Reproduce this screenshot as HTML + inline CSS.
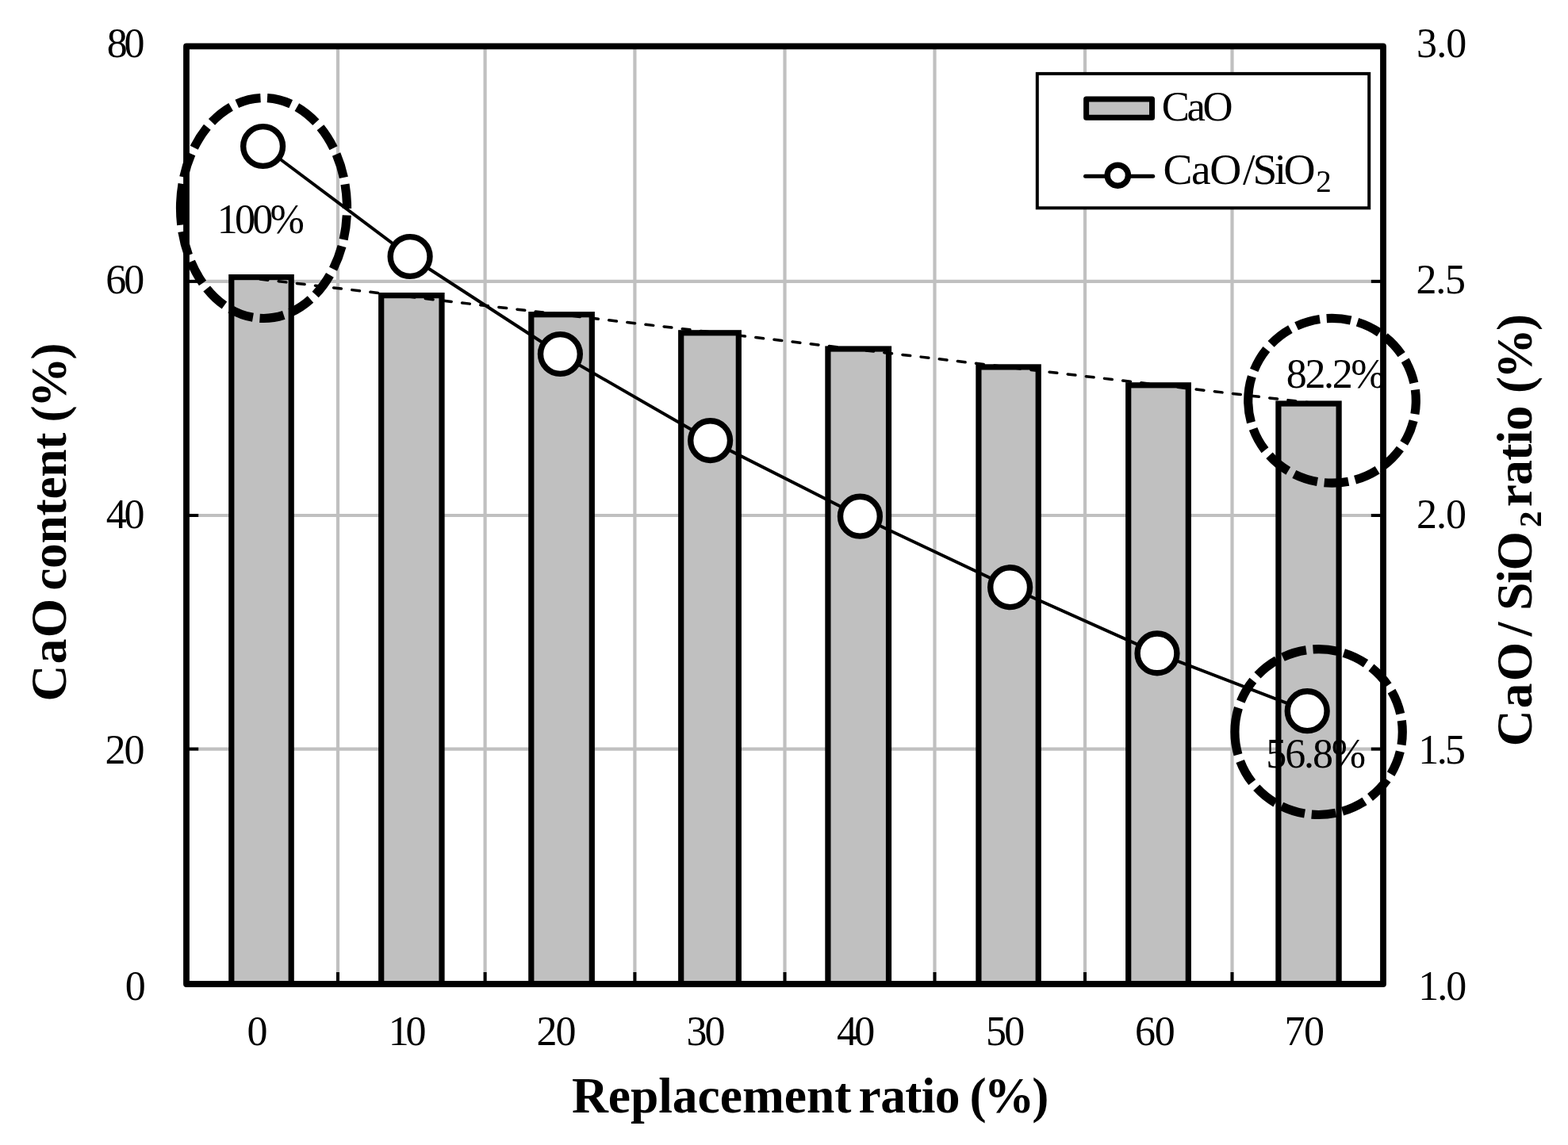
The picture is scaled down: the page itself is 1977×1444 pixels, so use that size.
<!DOCTYPE html>
<html lang="en">
<head>
<meta charset="utf-8">
<title>CaO content and CaO/SiO2 ratio vs. replacement ratio</title>
<style>
html,body{margin:0;padding:0;background:#fff;}
body{width:1977px;height:1444px;overflow:hidden;}
svg{display:block;}
text{font-family:"Liberation Serif",serif;fill:#000;white-space:pre;font-kerning:none;font-variant-ligatures:none;}
</style>
</head>
<body>
<svg width="1977" height="1444" viewBox="0 0 1977 1444">
<defs>
<clipPath id="plotclip"><rect x="235.0" y="58.4" width="1509.0" height="1182.6"/></clipPath>
</defs>
<rect x="0" y="0" width="1977" height="1444" fill="#fff"/>

<g stroke="#c0c0c0" stroke-width="4.2" fill="none">
<line x1="426" y1="58.4" x2="426" y2="1241.0"/>
<line x1="611.6" y1="58.4" x2="611.6" y2="1241.0"/>
<line x1="800.4" y1="58.4" x2="800.4" y2="1241.0"/>
<line x1="989.5" y1="58.4" x2="989.5" y2="1241.0"/>
<line x1="1178.5" y1="58.4" x2="1178.5" y2="1241.0"/>
<line x1="1368" y1="58.4" x2="1368" y2="1241.0"/>
<line x1="1553.5" y1="58.4" x2="1553.5" y2="1241.0"/>
<line x1="235.0" y1="354.9" x2="1744.0" y2="354.9"/>
<line x1="235.0" y1="650.0" x2="1744.0" y2="650.0"/>
<line x1="235.0" y1="944.6" x2="1744.0" y2="944.6"/>
</g>
<g fill="#c0c0c0" stroke="#000" stroke-width="7.2" stroke-linejoin="miter">
<rect x="291.80" y="349.60" width="75.40" height="891.40"/>
<rect x="480.70" y="372.60" width="76.30" height="868.40"/>
<rect x="669.80" y="396.70" width="76.50" height="844.30"/>
<rect x="858.70" y="419.80" width="72.60" height="821.20"/>
<rect x="1043.90" y="440.00" width="76.60" height="801.00"/>
<rect x="1233.90" y="462.90" width="75.30" height="778.10"/>
<rect x="1422.70" y="485.80" width="75.60" height="755.20"/>
<rect x="1611.90" y="509.00" width="76.20" height="732.00"/>
</g>
<g stroke="#000" stroke-width="4" fill="none">
<line x1="426" y1="1226" x2="426" y2="1241.0"/>
<line x1="611.6" y1="1226" x2="611.6" y2="1241.0"/>
<line x1="800.4" y1="1226" x2="800.4" y2="1241.0"/>
<line x1="989.5" y1="1226" x2="989.5" y2="1241.0"/>
<line x1="1178.5" y1="1226" x2="1178.5" y2="1241.0"/>
<line x1="1368" y1="1226" x2="1368" y2="1241.0"/>
<line x1="1553.5" y1="1226" x2="1553.5" y2="1241.0"/>
<line x1="235.0" y1="354.9" x2="250.2" y2="354.9"/>
<line x1="1728.8" y1="354.9" x2="1744.0" y2="354.9"/>
<line x1="235.0" y1="650.0" x2="250.2" y2="650.0"/>
<line x1="1728.8" y1="650.0" x2="1744.0" y2="650.0"/>
<line x1="235.0" y1="944.6" x2="250.2" y2="944.6"/>
<line x1="1728.8" y1="944.6" x2="1744.0" y2="944.6"/>
</g>
<rect x="235.0" y="58.4" width="1509.0" height="1182.6" fill="none" stroke="#000" stroke-width="7.8" stroke-linejoin="round"/>
<line x1="326.3" y1="351.8" x2="1650" y2="507.7" stroke="#000" stroke-width="3.5" stroke-dasharray="9.8 13.5" stroke-dashoffset="-1.75" stroke-linecap="round" fill="none"/>
<polyline points="331.6,184.5 517.1,323.5 706.4,446.5 895.6,555.6 1084.4,651.2 1273.6,740.7 1459,823.9 1648.2,896.7" fill="none" stroke="#000" stroke-width="4.0" stroke-linejoin="round"/>
<g fill="#fff" stroke="#000" stroke-width="7.4">
<circle cx="331.6" cy="184.5" r="24.9"/>
<circle cx="517.1" cy="323.5" r="24.9"/>
<circle cx="706.4" cy="446.5" r="24.9"/>
<circle cx="895.6" cy="555.6" r="24.9"/>
<circle cx="1084.4" cy="651.2" r="24.9"/>
<circle cx="1273.6" cy="740.7" r="24.9"/>
<circle cx="1459" cy="823.9" r="24.9"/>
<circle cx="1648.2" cy="896.7" r="24.9"/>
</g>
<rect x="1307.8" y="92.9" width="418.4" height="169.4" fill="#fff" stroke="#000" stroke-width="4"/>
<rect x="1369.6" y="124.9" width="82.9" height="23.3" fill="#c0c0c0" stroke="#000" stroke-width="7" stroke-linejoin="round"/>
<line x1="1368.5" y1="222.3" x2="1453.7" y2="222.3" stroke="#000" stroke-width="5" stroke-linecap="round"/>
<circle cx="1409.3" cy="221.2" r="13.1" fill="#fff" stroke="#000" stroke-width="7.4"/>
<text font-size="52" font-weight="normal"><tspan x="134.72" y="72.40" letter-spacing="-4.339">80</tspan></text>
<text font-size="52" font-weight="normal"><tspan x="133.37" y="369.60" letter-spacing="-2.985">60</tspan></text>
<text font-size="52" font-weight="normal"><tspan x="133.78" y="665.80" letter-spacing="-3.304">40</tspan></text>
<text font-size="52" font-weight="normal"><tspan x="132.61" y="963.20" letter-spacing="-2.234">20</tspan></text>
<text font-size="52" font-weight="normal"><tspan x="157.82" y="1260.60" letter-spacing="0.000">0</tspan></text>
<text font-size="52" font-weight="normal"><tspan x="1786.11" y="72.40" letter-spacing="-0.916">3.0</tspan></text>
<text font-size="52" font-weight="normal"><tspan x="1785.51" y="369.60" letter-spacing="-1.242">2.5</tspan></text>
<text font-size="52" font-weight="normal"><tspan x="1786.11" y="666.40" letter-spacing="-1.017">2.0</tspan></text>
<text font-size="52" font-weight="normal"><tspan x="1788.33" y="963.20" letter-spacing="-2.649">1.5</tspan></text>
<text font-size="52" font-weight="normal"><tspan x="1788.23" y="1260.60" letter-spacing="-1.975">1.0</tspan></text>
<text font-size="52" font-weight="normal"><tspan x="311.52" y="1317.80" letter-spacing="0.000">0</tspan></text>
<text font-size="52" font-weight="normal"><tspan x="489.63" y="1317.80" letter-spacing="-4.049">10</tspan></text>
<text font-size="52" font-weight="normal"><tspan x="676.61" y="1317.80" letter-spacing="-2.234">20</tspan></text>
<text font-size="52" font-weight="normal"><tspan x="865.61" y="1317.80" letter-spacing="-3.031">30</tspan></text>
<text font-size="52" font-weight="normal"><tspan x="1054.88" y="1317.80" letter-spacing="-3.504">40</tspan></text>
<text font-size="52" font-weight="normal"><tspan x="1242.98" y="1317.80" letter-spacing="-2.798">50</tspan></text>
<text font-size="52" font-weight="normal"><tspan x="1430.97" y="1317.80" letter-spacing="-1.185">60</tspan></text>
<text font-size="52" font-weight="normal"><tspan x="1619.57" y="1317.80" letter-spacing="-1.592">70</tspan></text>
<text font-size="52" font-weight="normal"><tspan x="273.63" y="294.40" letter-spacing="-3.690">100%</tspan></text>
<g clip-path="url(#plotclip)"><text font-size="52" font-weight="normal"><tspan x="1621.82" y="488.60" letter-spacing="-2.390">82.2%</tspan></text></g>
<text font-size="52" font-weight="normal"><tspan x="1596.28" y="968.20" letter-spacing="-2.129">56.8%</tspan></text>
<text font-size="52.7" font-weight="normal"><tspan x="1464.84" y="151.60" letter-spacing="-3.438">CaO</tspan></text>
<text font-size="55.5" font-weight="normal"><tspan x="1466.62" y="232.40" letter-spacing="-1.540">CaO</tspan><tspan x="1566.90" y="232.40" letter-spacing="0.000">/</tspan><tspan x="1579.59" y="232.40" letter-spacing="-3.689">SiO</tspan><tspan x="1659.19" y="242.00" letter-spacing="0.000" font-size="39">2</tspan></text>
<text font-size="63.5" font-weight="bold"><tspan x="720.91" y="1402.80" letter-spacing="-0.020">Replacement </tspan><tspan x="1082.59" y="1402.80" letter-spacing="-0.637">ratio </tspan><tspan x="1222.51" y="1402.80" letter-spacing="-3.005">(%)</tspan></text>
<text font-size="63.5" font-weight="bold" transform="translate(83.2 0) rotate(-90)"><tspan x="-884.40" y="0.00" letter-spacing="1.301">CaO </tspan><tspan x="-744.77" y="0.00" letter-spacing="-0.299">content </tspan><tspan x="-532.39" y="0.00" letter-spacing="-2.855">(%)</tspan></text>
<text font-size="63.5" font-weight="bold" transform="translate(1931 0) rotate(-90)"><tspan x="-941.20" y="0.00" letter-spacing="2.201">CaO </tspan><tspan x="-802.28" y="0.00" letter-spacing="0.000">/ </tspan><tspan x="-769.68" y="0.00" letter-spacing="-1.385">SiO</tspan><tspan x="-665.02" y="12.20" letter-spacing="0.000" font-size="41">2 </tspan><tspan x="-639.31" y="0.00" letter-spacing="-0.687">ratio </tspan><tspan x="-495.99" y="0.00" letter-spacing="-2.855">(%)</tspan></text>
<path d="M227.5,262.5 A105,139 0 1 1 437.5,262.5 A105,139 0 1 1 227.5,262.5" fill="none" stroke="#000" stroke-width="11.2" stroke-dasharray="30.8 8.6" stroke-dashoffset="0"/>
<path d="M1573.7,505.3 A105.8,103.9 0 1 1 1785.3,505.3 A105.8,103.9 0 1 1 1573.7,505.3" fill="none" stroke="#000" stroke-width="11.2" stroke-dasharray="30.8 8.6" stroke-dashoffset="0"/>
<path d="M1556.8999999999999,923.1 A105.7,104.4 0 1 1 1768.3,923.1 A105.7,104.4 0 1 1 1556.8999999999999,923.1" fill="none" stroke="#000" stroke-width="11.2" stroke-dasharray="30.8 8.6" stroke-dashoffset="0"/>
</svg>
</body>
</html>
